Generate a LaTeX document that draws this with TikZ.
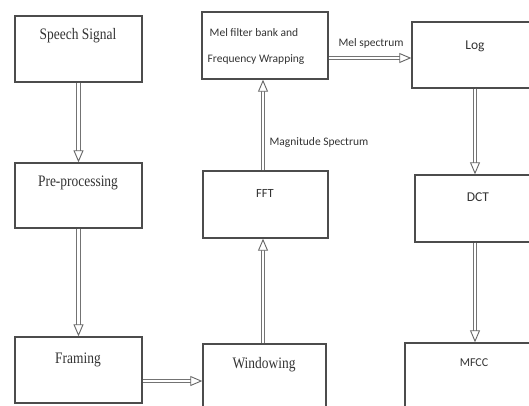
\documentclass[tikz,border=0pt]{standalone}
\usepackage{fontspec}
\usepackage{graphicx}
\setmainfont{Liberation Serif}
\newfontfamily\calib{Carlito}
\usetikzlibrary{arrows.meta,calc}
\tikzset{
  box/.style={draw=black!70, line width=1.4pt, inner sep=0pt, fill=none},
  sertext/.style={font=\fontsize{16}{18}\selectfont, text=black!80, inner sep=0pt},
  caltext/.style={font=\calib\fontsize{11.5}{14}\selectfont, text=black!80, inner sep=0pt},
  shaft/.style={draw=black!55, line width=0.9pt, double=white, double distance=2.6pt, shorten >=7pt},
  tipline/.style={draw=white, line width=0.2pt, -{Triangle[length=12pt,width=10pt,color=black!60,fill=white,line width=0.9pt]}}
}
\newcommand{\hollowarrow}[2]{\draw[shaft] #1 -- #2; \draw[tipline] #1 -- #2;}
\newcommand{\narrow}[1]{\scalebox{0.84}[1]{#1}}
\begin{document}
\begin{tikzpicture}[x=1pt,y=-1pt]
\useasboundingbox (0,0) rectangle (529,405);
\clip (0,0) rectangle (529,405);
\fill[white] (0,0) rectangle (529,405);
% boxes
\node[box, minimum width=127pt, minimum height=66pt] (sp) at (78.5,49) {};
\node[box, minimum width=127pt, minimum height=65pt] (pre) at (78.5,195.5) {};
\node[box, minimum width=127pt, minimum height=66pt] (fr) at (78.5,370) {};
\node[box, minimum width=126pt, minimum height=67pt] (mel) at (265,45.5) {};
\node[box, minimum width=125pt, minimum height=67pt] (fft) at (265.5,204.5) {};
\node[box, minimum width=123pt, minimum height=71pt] (win) at (264.5,379.5) {};
\node[box, minimum width=128pt, minimum height=66pt] (log) at (476,55) {};
\node[box, minimum width=125pt, minimum height=67pt] (dct) at (477.5,208.5) {};
\node[box, minimum width=135pt, minimum height=72pt] (mfcc) at (472.5,379) {};
% texts
\node[sertext] (t1) at (78,36) {\narrow{Speech Signal}};
\node[sertext] (t2) at (78,183) {\narrow{Pre-processing}};
\node[sertext] (t3) at (78,360) {\narrow{Framing}};
\node[sertext] (t4) at (264,365) {\narrow{Windowing}};
\node[caltext] (t5a) at (254,33) {Mel filter bank and};
\node[caltext] (t5b) at (256,60) {Frequency Wrapping};
\node[caltext, font=\calib\fontsize{12.5}{14}\selectfont] (t6) at (265,193) {FFT};
\node[caltext, font=\calib\fontsize{13.5}{14}\selectfont] (t7) at (475,46) {Log};
\node[caltext, font=\calib\fontsize{13.5}{14}\selectfont] (t8) at (478,197) {DCT};
\node[caltext, font=\calib\fontsize{12}{14}\selectfont] (t9) at (474,363) {MFCC};
\node[caltext] (l1) at (319,142) {Magnitude Spectrum};
\node[caltext] (l2) at (371,43) {Mel spectrum};
% arrow start points
\coordinate (a3) at ($(fr.east)+(0,11)$);
\coordinate (a4) at ($(win.north)+(-1.5,0)$);
\coordinate (a5) at ($(fft.north)+(-2.5,0)$);
\coordinate (a6) at ($(mel.east)+(0,12.5)$);
\coordinate (a7) at ($(log.south)+(-1,0)$);
\coordinate (a8) at ($(dct.south)+(-2.5,0)$);
% arrows
\hollowarrow{(sp.south)}{(pre.north)}
\hollowarrow{(pre.south)}{(fr.north)}
\hollowarrow{(a3)}{(a3 -| win.west)}
\hollowarrow{(a4)}{(a4 |- fft.south)}
\hollowarrow{(a5)}{(a5 |- mel.south)}
\hollowarrow{(a6)}{(a6 -| log.west)}
\hollowarrow{(a7)}{(a7 |- dct.north)}
\hollowarrow{(a8)}{(a8 |- mfcc.north)}
\end{tikzpicture}
\end{document}
